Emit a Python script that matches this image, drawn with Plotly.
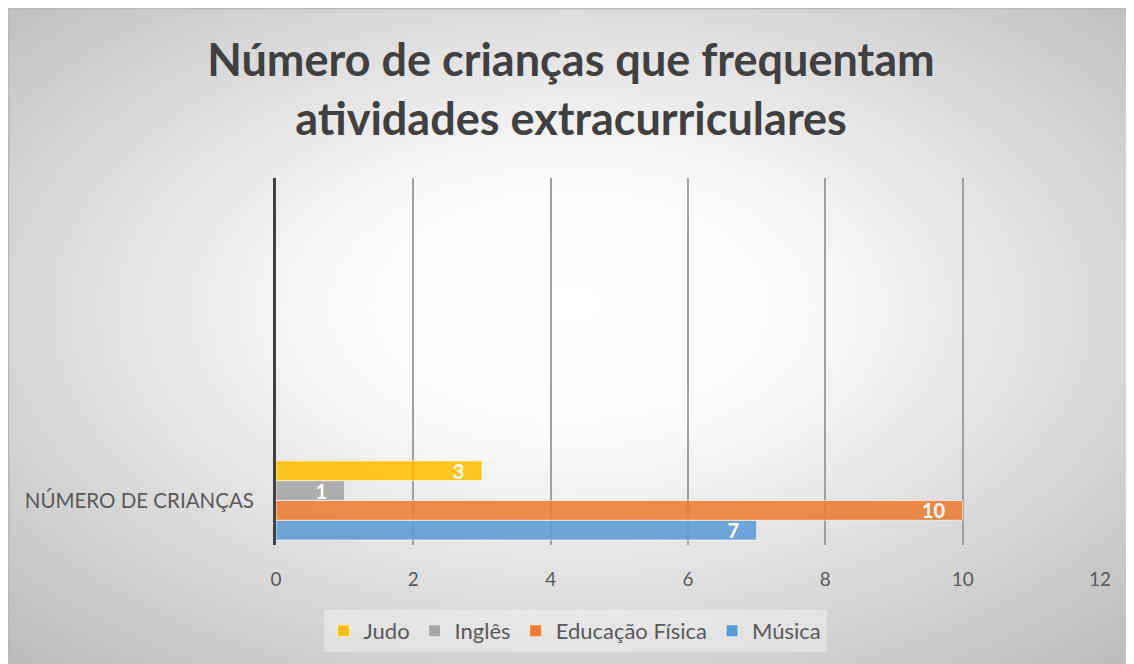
import base64
import plotly.graph_objects as go

category = ["NÚMERO DE CRIANÇAS"]
series_names = ["Música", "Educação Física", "Inglês", "Judo"]
series_values = [7, 10, 1, 3]
series_colors = ["#5B9BD5", "#ED7D31", "#A5A5A5", "#FFC000"]
x_ticks = [0, 2, 4, 6, 8, 10, 12]

# page body has an 8px margin; figure sits at (8, 8)
W, H = 1126, 656
L, R, T, B = 268, 34, 170, 119
pw, ph = W - L - R, H - T - B

svg = f'''<svg xmlns="http://www.w3.org/2000/svg" width="{W}" height="{H}" viewBox="0 0 {W} {H}" preserveAspectRatio="none">
<defs><radialGradient id="g" cx="50%" cy="47%" r="72%" fx="50%" fy="45%">
<stop offset="0" stop-color="#ffffff"/><stop offset="0.28" stop-color="#fbfbfb"/>
<stop offset="1" stop-color="#bcbcbc"/></radialGradient></defs>
<rect x="0" y="0" width="{W}" height="{H}" fill="url(#g)"/></svg>'''
uri = "data:image/svg+xml;base64," + base64.b64encode(svg.encode()).decode()

NB = "\u00a0"

fig = go.Figure()
for name, val, col in zip(series_names, series_values, series_colors):
    fig.add_trace(go.Bar(
        y=category, x=[val], name=name, orientation="h",
        marker=dict(color=col, opacity=0.87, line=dict(color="rgba(255,255,255,0.7)", width=1)),
        text=[f"{val}{NB * 3}"], textposition="inside", insidetextanchor="end", textangle=0,
        constraintext="none", cliponaxis=False,
        textfont=dict(family="Lato", size=20, color="white", weight="bold"),
        hoverinfo="x+name",
    ))

def px_x(p):
    return (p - L) / pw

def px_y(p):
    return (H - B - p) / ph

fig.add_layout_image(dict(
    source=uri, xref="paper", yref="paper",
    x=px_x(0), y=px_y(0), sizex=W / pw, sizey=H / ph,
    xanchor="left", yanchor="top", sizing="stretch", layer="below",
))

fig.add_shape(type="line", xref="paper", yref="paper",
              x0=px_x(0), x1=px_x(W), y0=px_y(0.5), y1=px_y(0.5),
              line=dict(color="#b8b8b8", width=1.5))
fig.add_shape(type="line", xref="paper", yref="paper",
              x0=px_x(0.5), x1=px_x(0.5), y0=px_y(0), y1=px_y(H),
              line=dict(color="#b8b8b8", width=1.5))

fig.update_layout(
    width=W, height=H,
    margin=dict(l=L, r=R, t=T, b=B, autoexpand=False),
    paper_bgcolor="white", plot_bgcolor="rgba(0,0,0,0)",
    barmode="group", bargap=0.11, bargroupgap=0,
    title=dict(
        text="Número de crianças que frequentam<br>atividades extracurriculares",
        x=0.5, xref="container", xanchor="center", y=1 - 68 / H, yanchor="middle",
        font=dict(family="Lato", size=45, color="#404040", weight="bold"),
    ),
    font=dict(family="Lato", color="#595959"),
    xaxis=dict(
        range=[0, 12], tickvals=x_ticks, showgrid=True, gridcolor="#a0a0a0", gridwidth=1.5,
        zeroline=False, showline=False, ticks="", ticklabelstandoff=21, automargin=False,
        tickfont=dict(size=19, color="#595959"), fixedrange=True,
    ),
    yaxis=dict(
        range=[-0.5, 3.62], showgrid=False, zeroline=False,
        showline=True, linecolor="#404040", linewidth=3,
        ticks="", ticklabelstandoff=15, automargin=False,
        tickfont=dict(size=20.5, color="#595959"), fixedrange=True,
    ),
    legend=dict(
        orientation="h", traceorder="reversed", xref="container", x=0.5036,
        xanchor="center", y=px_y(623), yanchor="middle", yref="paper",
        bgcolor="rgba(255,255,255,0.35)", font=dict(size=22, color="#595959"),
        itemwidth=30,
    ),
)

fig.write_html("out.html")
